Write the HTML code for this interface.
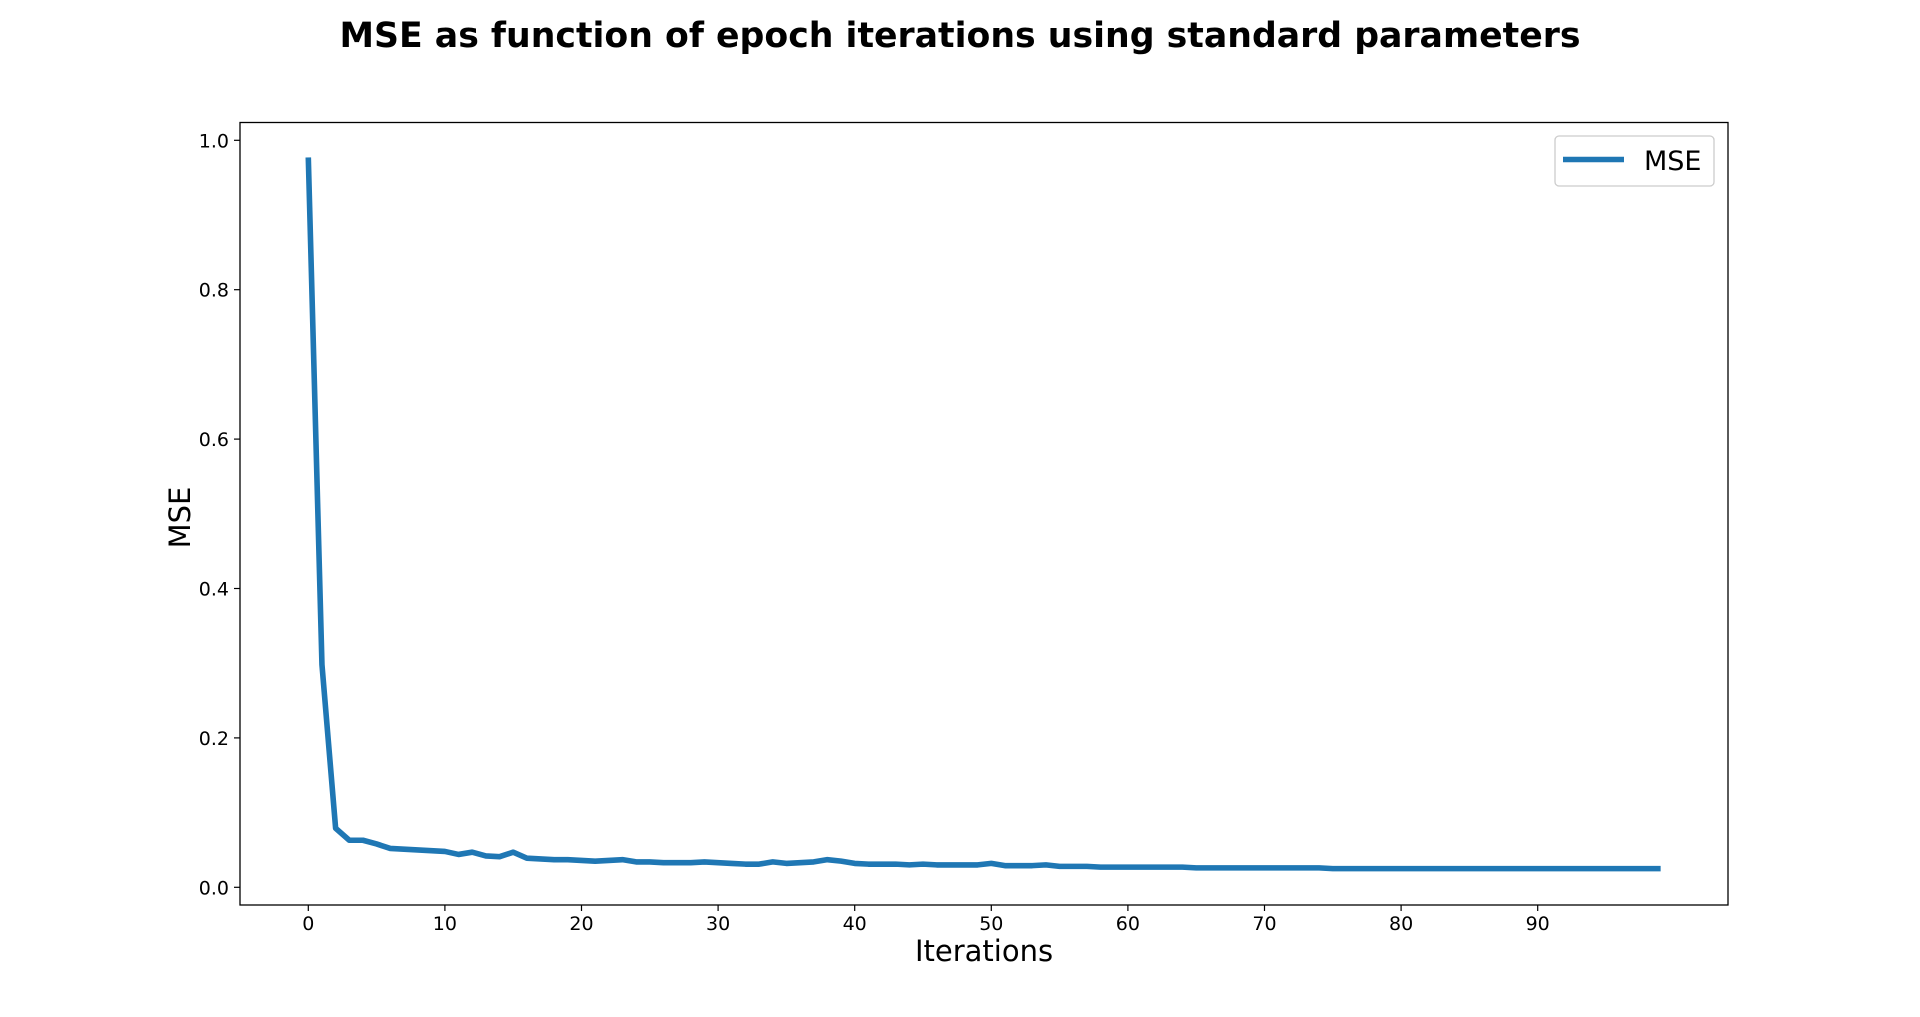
<!DOCTYPE html>
<html><head><meta charset="utf-8"><style>
html,body{margin:0;padding:0;background:#fff;}
svg{display:block;font-family:"DejaVu Sans","Liberation Sans",sans-serif;}
</style></head><body>
<svg id="chart" width="1920" height="1017" viewBox="0 0 1920 1017">
<rect width="1920" height="1017" fill="#fff"/>
<text x="960" y="47" text-anchor="middle" font-size="34.7" font-weight="bold" fill="#000">MSE as function of epoch iterations using standard parameters</text>
<g id="ticks"></g>
<path id="series" fill="none" stroke="#1f77b4" stroke-width="5.6" stroke-linejoin="round"/>
<rect x="240" y="122.5" width="1488" height="782.5" fill="none" stroke="#000" stroke-width="1.3"/>
<text x="984" y="961" text-anchor="middle" font-size="29" fill="#000">Iterations</text>
<text transform="translate(190,517.5) rotate(-90)" text-anchor="middle" font-size="29" fill="#000">MSE</text>
<g>
<rect x="1555" y="136" width="159" height="50" rx="4" fill="#fff" stroke="#ccc" stroke-width="1.3"/>
<line x1="1563" y1="159.5" x2="1624" y2="159.5" stroke="#1f77b4" stroke-width="5.6"/>
<text x="1644" y="170" font-size="27" fill="#000">MSE</text>
</g>
</svg>
<script>
const mseValues = [0.977,0.298,0.079,0.063,0.063,0.058,0.052,0.051,0.050,0.049,0.048,0.044,0.047,0.042,0.041,0.047,0.039,0.038,0.037,0.037,0.036,0.035,0.036,0.037,0.034,0.034,0.033,0.033,0.033,0.034,0.033,0.032,0.031,0.031,0.034,0.032,0.033,0.034,0.037,0.035,0.032,0.031,0.031,0.031,0.030,0.031,0.030,0.030,0.030,0.030,0.032,0.029,0.029,0.029,0.030,0.028,0.028,0.028,0.027,0.027,0.027,0.027,0.027,0.027,0.027,0.026,0.026,0.026,0.026,0.026,0.026,0.026,0.026,0.026,0.026,0.025,0.025,0.025,0.025,0.025,0.025,0.025,0.025,0.025,0.025,0.025,0.025,0.025,0.025,0.025,0.025,0.025,0.025,0.025,0.025,0.025,0.025,0.025,0.025,0.025];
const xTicks = [0,10,20,30,40,50,60,70,80,90];
const yTicks = [0.0,0.2,0.4,0.6,0.8,1.0];
const yTickLabels = ["0.0","0.2","0.4","0.6","0.8","1.0"];

const NS = "http://www.w3.org/2000/svg";
function xScale(i){ return 308.3 + i*13.66; }
function yScale(v){ return 887.3 - v*747; }

const path = document.getElementById('series');
path.setAttribute('d', mseValues.map((v,i)=>(i?'L':'M')+xScale(i).toFixed(2)+' '+yScale(v).toFixed(2)).join(' '));

const g = document.getElementById('ticks');
xTicks.forEach(t=>{
  const x = xScale(t);
  const l = document.createElementNS(NS,'line');
  l.setAttribute('x1',x); l.setAttribute('x2',x); l.setAttribute('y1',905); l.setAttribute('y2',911);
  l.setAttribute('stroke','#000'); l.setAttribute('stroke-width','1.2');
  
  
  g.appendChild(l);
  const tx = document.createElementNS(NS,'text');
  tx.setAttribute('x',x); tx.setAttribute('y',930); tx.setAttribute('text-anchor','middle'); tx.setAttribute('font-size','19');
  tx.textContent = t;
  
  
  g.appendChild(tx);
});
yTicks.forEach((t,k)=>{
  const y = yScale(t);
  const l = document.createElementNS(NS,'line');
  l.setAttribute('x1',234); l.setAttribute('x2',240); l.setAttribute('y1',y); l.setAttribute('y2',y);
  l.setAttribute('stroke','#000'); l.setAttribute('stroke-width','1.2');
  
  
  g.appendChild(l);
  const tx = document.createElementNS(NS,'text');
  tx.setAttribute('x',229); tx.setAttribute('y',y+7); tx.setAttribute('text-anchor','end'); tx.setAttribute('font-size','19');
  tx.textContent = yTickLabels[k];
  
  
  g.appendChild(tx);
});
</script>
</body></html>
